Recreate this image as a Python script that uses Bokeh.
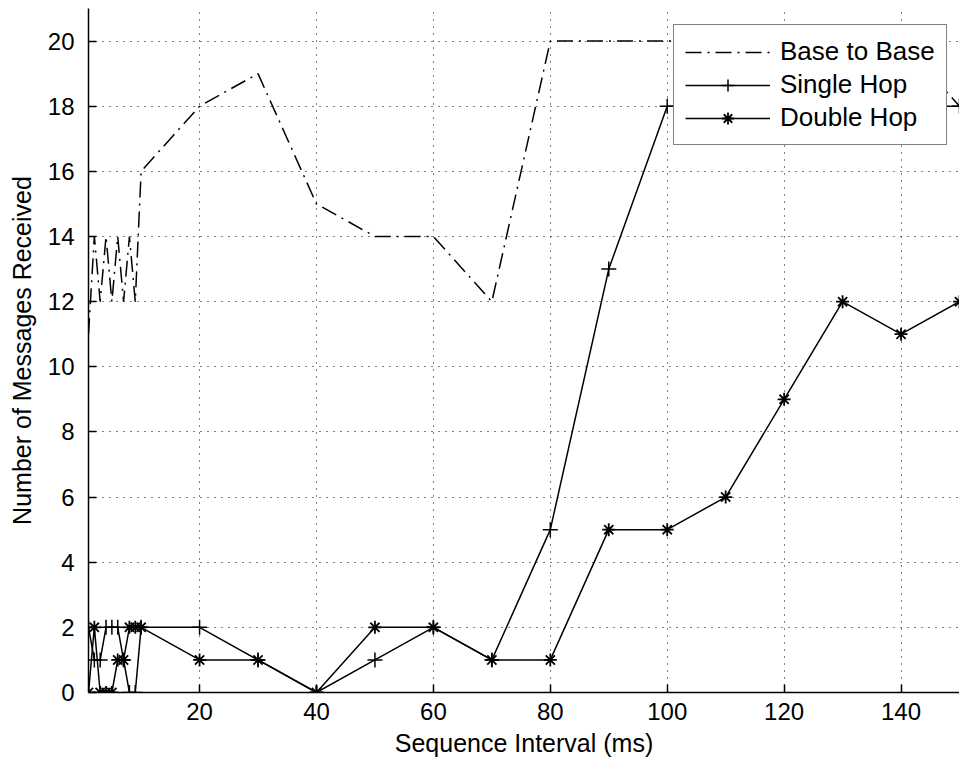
from bokeh.plotting import figure
from bokeh.models import Range1d, FixedTicker, Legend, LegendItem
from bokeh.embed import file_html
from bokeh.resources import INLINE

# ---- data ----
interval_ms = [1, 2, 3, 4, 5, 6, 7, 8, 9, 10,
               20, 30, 40, 50, 60, 70, 80, 90, 100, 110, 120, 130, 140, 150]
base_to_base = [11, 14, 12, 14, 12, 14, 12, 14, 12, 16,
                18, 19, 15, 14, 14, 12, 20, 20, 20, 20, 20, 20, 20, 18]
single_hop = [2, 1, 1, 2, 2, 2, 1, 0, 0, 2,
              2, 1, 0, 1, 2, 1, 5, 13, 18, 18, 18, 18, 18, 18]
double_hop = [0, 2, 0, 0, 0, 1, 1, 2, 2, 2,
              1, 1, 0, 2, 2, 1, 1, 5, 5, 6, 9, 12, 11, 12]

x_ticks = [20, 40, 60, 80, 100, 120, 140]
y_ticks = [0, 2, 4, 6, 8, 10, 12, 14, 16, 18, 20]

FONT = "Liberation Sans"

p = figure(width=959, height=767, output_backend="svg", toolbar_location=None,
           x_range=Range1d(1, 150), y_range=Range1d(0, 21),
           min_border_left=88, min_border_right=0, min_border_top=8,
           min_border_bottom=75)
p.outline_line_color = None
p.background_fill_color = "white"
p.border_fill_color = "white"

r_base = p.line(interval_ms, base_to_base, line_color="black", line_width=1.5,
                line_dash="16 6 2 6")
r_single = p.line(interval_ms, single_hop, line_color="black", line_width=1.5)
m_single = p.scatter(interval_ms, single_hop, marker="cross", size=15,
                     line_color="black", line_width=1.5)
r_double = p.line(interval_ms, double_hop, line_color="black", line_width=1.5)
m_double = p.scatter(interval_ms, double_hop, marker="asterisk", size=13,
                     line_color="black", line_width=1.8)

# axes
p.xaxis.ticker = FixedTicker(ticks=x_ticks)
p.yaxis.ticker = FixedTicker(ticks=y_ticks)
for ax in (p.xaxis[0], p.yaxis[0]):
    ax.axis_line_color = "black"
    ax.axis_line_width = 1.5
    ax.major_tick_in = 8
    ax.major_tick_out = 0
    ax.major_tick_line_color = "black"
    ax.major_tick_line_width = 1.5
    ax.minor_tick_line_color = None
    ax.major_label_text_font = FONT
    ax.major_label_text_font_size = "24px"
    ax.major_label_text_color = "black"
    ax.axis_label_text_font = FONT
    ax.axis_label_text_font_size = "25px"
    ax.axis_label_text_font_style = "normal"
    ax.axis_label_text_color = "black"

p.xaxis.axis_label = "Sequence Interval (ms)"
p.yaxis.axis_label = "Number of Messages Received"
p.xaxis.major_label_standoff = 10
p.xaxis.axis_label_standoff = 6
p.yaxis.major_label_standoff = 14
p.yaxis.axis_label_standoff = 9

# grid
p.grid.grid_line_color = "black"
p.grid.grid_line_dash = "1 6"
p.grid.grid_line_width = 1
p.grid.grid_line_alpha = 1.0

legend = Legend(items=[
    LegendItem(label="Base to Base", renderers=[r_base]),
    LegendItem(label="Single Hop", renderers=[r_single, m_single]),
    LegendItem(label="Double Hop", renderers=[r_double, m_double]),
], location=(585, 547))
legend.margin = 0
legend.padding = 11
legend.spacing = 2
legend.label_height = 30
legend.glyph_height = 30
legend.glyph_width = 85
legend.label_standoff = 10
legend.label_text_font = FONT
legend.label_text_font_size = "26px"
legend.label_text_color = "black"
legend.border_line_color = "black"
legend.border_line_width = 1.5
legend.background_fill_color = "white"
legend.background_fill_alpha = 1.0
p.add_layout(legend)

open("out.html", "w").write(file_html(p, INLINE))
